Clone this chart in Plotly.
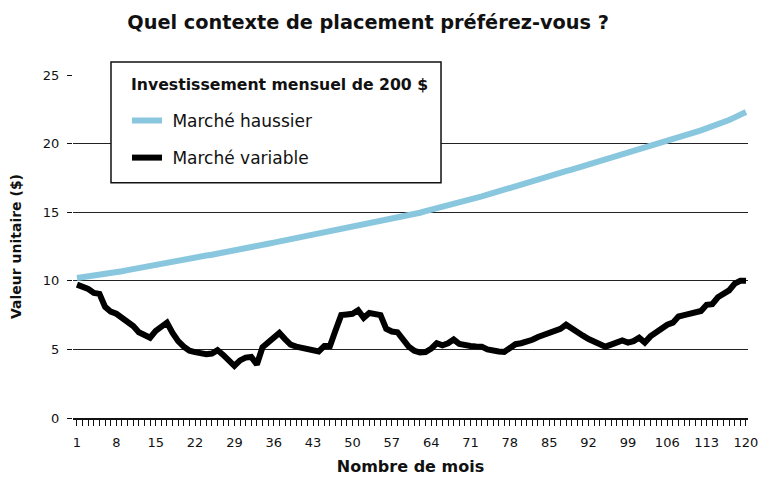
import plotly.graph_objects as go

months = list(range(1, 121))

haussier = [
    10.20, 10.25, 10.30, 10.35, 10.40, 10.48, 10.55,
    10.62, 10.70, 10.78, 10.86, 10.94, 11.02, 11.10, 11.20, 11.30,
    11.37, 11.44, 11.50, 11.57, 11.63, 11.70, 11.77, 11.84, 11.90,
    11.97, 12.04, 12.10, 12.18, 12.25,
    12.34, 12.43, 12.52, 12.61, 12.70,
    12.78, 12.86, 12.94, 13.03, 13.11, 13.20,
    13.28, 13.36, 13.44, 13.52, 13.60, 13.68, 13.75,
    13.83, 13.91, 13.99, 14.07, 14.15, 14.23, 14.31, 14.39, 14.47, 14.55, 14.63, 14.70,
    14.83, 14.96, 15.08, 15.20,
    15.31, 15.41, 15.52, 15.62, 15.73, 15.84, 15.94, 16.05, 16.15,
    16.28, 16.41, 16.53, 16.66, 16.78, 16.91, 17.04, 17.17, 17.30,
    17.41, 17.53, 17.64, 17.76, 17.87, 17.99, 18.10, 18.22, 18.33, 18.45,
    18.57, 18.70, 18.82, 18.95, 19.07, 19.20, 19.32, 19.45, 19.57, 19.70, 19.82, 19.95,
    20.08, 20.20, 20.33, 20.46, 20.58, 20.71, 20.84, 20.97, 21.10, 21.22, 21.35,
    21.53, 21.72, 21.91, 22.10, 22.30,
]

variable = [
    9.72, 9.60, 9.40, 9.12, 9.05, 8.10, 7.75, 7.60, 7.30, 6.90,
    6.70, 6.25, 6.00, 5.85, 6.35, 6.70, 6.95, 6.20, 5.60, 5.20,
    4.90, 4.80, 4.70, 4.65, 4.70, 4.95, 4.60, 4.25, 3.80, 4.20,
    4.40, 4.45, 3.90, 5.15, 5.50, 5.85, 6.20, 5.75, 5.35, 5.20,
    5.10, 5.00, 4.90, 4.85, 5.25, 5.25, 6.40, 7.50, 7.55, 7.60,
    7.85, 7.30, 7.65, 7.55, 7.50, 6.50, 6.30, 6.25, 5.70, 5.20,
    4.90, 4.78, 4.80, 5.05, 5.45, 5.30, 5.45, 5.72, 5.40, 5.28,
    5.25, 5.22, 5.20, 5.00, 4.88, 4.85, 4.82, 5.10, 5.38, 5.45,
    5.55, 5.70, 5.90, 6.05, 6.30, 6.40, 6.50, 6.80, 6.50, 6.30,
    6.00, 5.75, 5.60, 5.45, 5.20, 5.35, 5.50, 5.65, 5.50, 5.60,
    5.85, 5.50, 5.95, 6.25, 6.50, 6.80, 6.95, 7.40, 7.50, 7.60,
    7.65, 7.80, 8.25, 8.30, 8.80, 9.10, 9.30, 9.80, 10.00, 10.00,
]

x_tickvals = list(range(1, 121, 7))
y_tickvals = [0, 5, 10, 15, 20, 25]

legend_title = "Investissement mensuel de 200 $"

FONT = "DejaVu Sans"
INK = "#111111"

fig = go.Figure()
fig.add_trace(go.Scatter(
    x=months, y=haussier, mode="lines", name="&nbsp;Marché haussier",
    line=dict(color="#89c7df", width=6), legendgroup="a",
))
fig.add_trace(go.Scatter(
    x=months, y=variable, mode="lines", name="&nbsp;Marché variable",
    line=dict(color="#000000", width=6), legendgroup="b",
))

# legend frame (white box, black border) behind the legend entries
fig.add_shape(
    type="rect", xref="paper", yref="paper",
    x0=0.0563, x1=0.5452, y0=0.6856, y1=1.0378,
    fillcolor="white", line=dict(color=INK, width=1.5), layer="above",
)
fig.add_annotation(
    text=legend_title, xref="paper", yref="paper",
    x=0.0829, y=0.9709, xanchor="left", yanchor="middle", showarrow=False,
    font=dict(size=15.7, family=FONT, color=INK, weight=700),
)

fig.update_layout(
    width=759, height=477,
    margin=dict(l=73, r=11, t=75, b=58.5, autoexpand=False),
    paper_bgcolor="white", plot_bgcolor="white",
    font=dict(family=FONT, color=INK, size=14),
    title=dict(text="Quel contexte de placement préférez-vous ?",
               x=0.485, xanchor="center", y=0.953, yanchor="middle",
               font=dict(size=19.3, family=FONT, color=INK, weight=700)),
    showlegend=True,
    legend=dict(
        x=0.08, xanchor="left", y=0.9185, yanchor="top",
        bgcolor="rgba(0,0,0,0)", borderwidth=0,
        font=dict(size=17, family=FONT, color=INK),
        traceorder="grouped", tracegroupgap=12,
    ),
    xaxis=dict(
        range=[0.29, 120.36],
        tickmode="array", tickvals=x_tickvals,
        ticks="outside", ticklen=6, tickwidth=1, tickcolor=INK,
        showline=True, linecolor=INK, linewidth=1.5,
        showgrid=False, zeroline=False,
        tickfont=dict(size=13, family=FONT, color=INK),
        ticklabelstandoff=6,
        minor=dict(dtick=1, tick0=1, ticks="outside", ticklen=6,
                   tickwidth=1, tickcolor=INK, showgrid=False),
        title=dict(text="Nombre de mois", standoff=11,
                   font=dict(size=16, family=FONT, color=INK, weight=700)),
    ),
    yaxis=dict(
        range=[0, 25],
        tickmode="array", tickvals=y_tickvals,
        ticks="outside", ticklen=5, tickwidth=1, tickcolor=INK,
        showgrid=True, gridcolor="#222222", gridwidth=1,
        showline=False, zeroline=False,
        tickfont=dict(size=13, family=FONT, color=INK),
        ticklabelstandoff=5,
        title=dict(text="Valeur unitaire ($)", standoff=17,
                   font=dict(size=14, family=FONT, color=INK, weight=700)),
    ),
)

fig.write_html("out.html", config={"displayModeBar": False},
               post_script="document.body.style.margin='0';")
